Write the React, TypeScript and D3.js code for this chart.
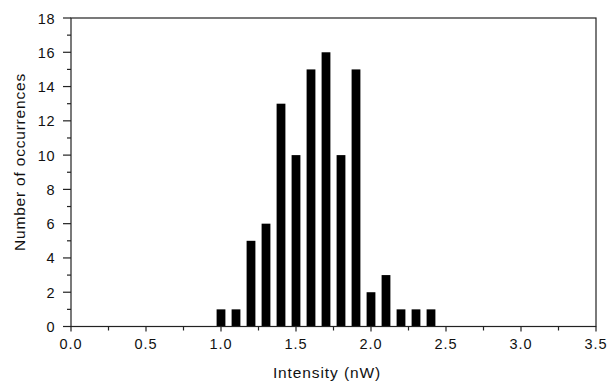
import React from 'react';
import * as d3 from 'd3';

const intensity = [1.0, 1.1, 1.2, 1.3, 1.4, 1.5, 1.6, 1.7, 1.8, 1.9, 2.0, 2.1, 2.2, 2.3, 2.4];
const counts = [1, 1, 5, 6, 13, 10, 15, 16, 10, 15, 2, 3, 1, 1, 1];
const xTicks = [0, 0.5, 1.0, 1.5, 2.0, 2.5, 3.0, 3.5];
const xMinor = [0.25, 0.75, 1.25, 1.75, 2.25, 2.75, 3.25];
const yTicks = [0, 2, 4, 6, 8, 10, 12, 14, 16, 18];
const yMinor = [1, 3, 5, 7, 9, 11, 13, 15, 17];

const W = 609;
const H = 383;
const margin = { top: 18, right: 13, bottom: 56.5, left: 71 };
const font = 'Liberation Sans, Arial, sans-serif';

export default function App() {
  const x = d3.scaleLinear().domain([0, 3.5]).range([margin.left, W - margin.right]);
  const y = d3.scaleLinear().domain([0, 18]).range([H - margin.bottom, margin.top]);
  const barW = 8.8;
  const axisColor = '#222';

  return (
    <div style={{ position: 'fixed', left: 0, top: 0 }}>
      <svg width={W} height={H} style={{ display: 'block', background: '#fff' }}>
        {intensity.map((v, i) => (
          <rect
            key={i}
            x={x(v) - barW / 2}
            y={y(counts[i])}
            width={barW}
            height={y(0) - y(counts[i])}
            fill="#000"
          />
        ))}
        <rect
          x={x(0)}
          y={y(18)}
          width={x(3.5) - x(0)}
          height={y(0) - y(18)}
          fill="none"
          stroke={axisColor}
          strokeWidth={1.2}
        />
        {xTicks.map(t => (
          <g key={'x' + t}>
            <line x1={x(t)} x2={x(t)} y1={y(0)} y2={y(0) + 5} stroke={axisColor} strokeWidth={1.2} />
            <text x={x(t)} y={y(0) + 22.5} textAnchor="middle" fontFamily={font} fontSize={14.5} letterSpacing={1} fill="#111">
              {t.toFixed(1)}
            </text>
          </g>
        ))}
        {xMinor.map(t => (
          <line key={'xm' + t} x1={x(t)} x2={x(t)} y1={y(0)} y2={y(0) + 4} stroke={axisColor} strokeWidth={1.2} />
        ))}
        {yTicks.map(t => (
          <g key={'y' + t}>
            <line x1={x(0) - 8} x2={x(0)} y1={y(t)} y2={y(t)} stroke={axisColor} strokeWidth={1.2} />
            <text x={x(0) - 16} y={y(t) + 5.5} textAnchor="end" fontFamily={font} fontSize={14.5} letterSpacing={0.5} fill="#111">
              {t}
            </text>
          </g>
        ))}
        {yMinor.map(t => (
          <line key={'ym' + t} x1={x(0) - 4} x2={x(0)} y1={y(t)} y2={y(t)} stroke={axisColor} strokeWidth={1.2} />
        ))}
        <text x={327} y={378} textAnchor="middle" fontFamily={font} fontSize={15.5} letterSpacing={0.9} fill="#111">
          Intensity (nW)
        </text>
        <text
          transform="translate(24.5,162) rotate(-90)"
          textAnchor="middle"
          fontFamily={font}
          fontSize={15.5}
          letterSpacing={0.8}
          fill="#111"
        >
          Number of occurrences
        </text>
      </svg>
    </div>
  );
}
